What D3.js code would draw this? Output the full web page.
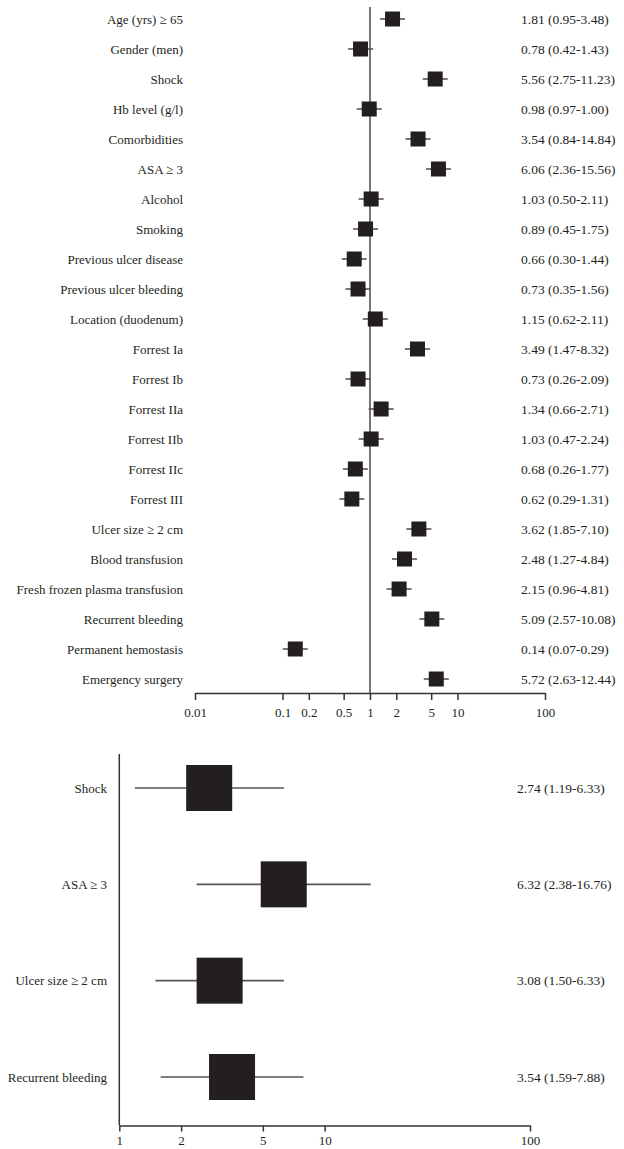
<!DOCTYPE html>
<html>
<head>
<meta charset="utf-8">
<script src="https://cdn.jsdelivr.net/npm/d3@7"></script>
<style>
  body { margin: 0; background: #fff; }
  svg { display: block; font-family: "Liberation Serif", "Times New Roman", serif; }
  .axis text { font-size: 13px; fill: #231f20; font-family: "Liberation Serif", serif; }
  .axis path, .axis line { stroke: #333; stroke-width: 1.5; }
</style>
</head>
<body>
<svg id="chart" width="624" height="1149"></svg>
<script>
// univariate analysis (top panel)
const topLabels = ["Age (yrs) \u2265 65", "Gender (men)", "Shock", "Hb level (g/l)", "Comorbidities",
  "ASA \u2265 3", "Alcohol", "Smoking", "Previous ulcer disease", "Previous ulcer bleeding",
  "Location (duodenum)", "Forrest Ia", "Forrest Ib", "Forrest IIa", "Forrest IIb", "Forrest IIc",
  "Forrest III", "Ulcer size \u2265 2 cm", "Blood transfusion", "Fresh frozen plasma transfusion",
  "Recurrent bleeding", "Permanent hemostasis", "Emergency surgery"];
const topOR =   [1.81, 0.78, 5.56, 0.98, 3.54, 6.06, 1.03, 0.89, 0.66, 0.73, 1.15, 3.49, 0.73, 1.34, 1.03, 0.68, 0.62, 3.62, 2.48, 2.15, 5.09, 0.14, 5.72];
const topLow =  [0.95, 0.42, 2.75, 0.97, 0.84, 2.36, 0.50, 0.45, 0.30, 0.35, 0.62, 1.47, 0.26, 0.66, 0.47, 0.26, 0.29, 1.85, 1.27, 0.96, 2.57, 0.07, 2.63];
const topHigh = [3.48, 1.43, 11.23, 1.00, 14.84, 15.56, 2.11, 1.75, 1.44, 1.56, 2.11, 8.32, 2.09, 2.71, 2.24, 1.77, 1.31, 7.10, 4.84, 4.81, 10.08, 0.29, 12.44];
const topTicks = [0.01, 0.1, 0.2, 0.5, 1, 2, 5, 10, 100];

// multivariate analysis (bottom panel)
const botLabels = ["Shock", "ASA \u2265 3", "Ulcer size \u2265 2 cm", "Recurrent bleeding"];
const botOR =   [2.74, 6.32, 3.08, 3.54];
const botLow =  [1.19, 2.38, 1.50, 1.59];
const botHigh = [6.33, 16.76, 6.33, 7.88];
const botTicks = [1, 2, 5, 10, 100];

const fmt = v => v.toFixed(2);
const svg = d3.select("#chart");
const ink = "#231f20";

// ---------- top panel ----------
const x1 = d3.scaleLog().domain([0.01, 100]).range([195, 545]);
const y1 = d3.scalePoint().domain(topLabels).range([19, 679]);
const axisY1 = 693;

const gTop = svg.append("g");
const topData = topLabels.map((l, i) => ({ label: l, or: topOR[i], lo: topLow[i], hi: topHigh[i] }));

gTop.append("line")
  .attr("x1", x1(1)).attr("x2", x1(1))
  .attr("y1", 7).attr("y2", axisY1)
  .attr("stroke", "#777").attr("stroke-width", 2);

const trow = gTop.selectAll(".row").data(topData).join("g")
  .attr("transform", d => `translate(0,${y1(d.label)})`);

// whiskers in the original are a fixed short stub either side of the box
trow.append("line")
  .attr("x1", d => x1(d.or) - 12.5).attr("x2", d => x1(d.or) + 12.5)
  .attr("stroke", "#555").attr("stroke-width", 1.6);
trow.append("rect")
  .attr("x", d => x1(d.or) - 7.5).attr("y", -7.5)
  .attr("width", 15).attr("height", 15)
  .attr("fill", ink);
trow.append("text")
  .attr("x", 183).attr("dy", "0.35em")
  .attr("text-anchor", "end")
  .attr("font-size", 13).attr("fill", ink)
  .text(d => d.label);
trow.append("text")
  .attr("x", 521).attr("dy", "0.35em")
  .attr("font-size", 13.5).attr("fill", ink)
  .text(d => `${fmt(d.or)} (${fmt(d.lo)}-${fmt(d.hi)})`);

gTop.append("g")
  .attr("class", "axis")
  .attr("transform", `translate(0,${axisY1})`)
  .call(d3.axisBottom(x1).tickValues(topTicks).tickFormat(d => d)
    .tickSize(7).tickSizeOuter(0).tickPadding(8));

// ---------- bottom panel ----------
const x2 = d3.scaleLog().domain([1, 100]).range([119.3, 530]);
const y2 = d3.scalePoint().domain(botLabels).range([788, 1077]);
const axisY2 = 1125.5;

const gBot = svg.append("g");
const botData = botLabels.map((l, i) => ({ label: l, or: botOR[i], lo: botLow[i], hi: botHigh[i] }));

gBot.append("line")
  .attr("x1", x2(1)).attr("x2", x2(1))
  .attr("y1", 754).attr("y2", axisY2)
  .attr("stroke", "#333").attr("stroke-width", 1.5);

const brow = gBot.selectAll(".row").data(botData).join("g")
  .attr("transform", d => `translate(0,${y2(d.label)})`);

brow.append("line")
  .attr("x1", d => x2(d.lo)).attr("x2", d => x2(d.hi))
  .attr("stroke", "#555").attr("stroke-width", 1.6);
brow.append("rect")
  .attr("x", d => x2(d.or) - 23).attr("y", -23)
  .attr("width", 46).attr("height", 46)
  .attr("fill", ink);
brow.append("text")
  .attr("x", 107).attr("dy", "0.35em")
  .attr("text-anchor", "end")
  .attr("font-size", 13).attr("fill", ink)
  .text(d => d.label);
brow.append("text")
  .attr("x", 517).attr("dy", "0.35em")
  .attr("font-size", 13.5).attr("fill", ink)
  .text(d => `${fmt(d.or)} (${fmt(d.lo)}-${fmt(d.hi)})`);

gBot.append("g")
  .attr("class", "axis")
  .attr("transform", `translate(0,${axisY2})`)
  .call(d3.axisBottom(x2).tickValues(botTicks).tickFormat(d => d)
    .tickSize(6).tickSizeOuter(0).tickPadding(4));
</script>
</body>
</html>
